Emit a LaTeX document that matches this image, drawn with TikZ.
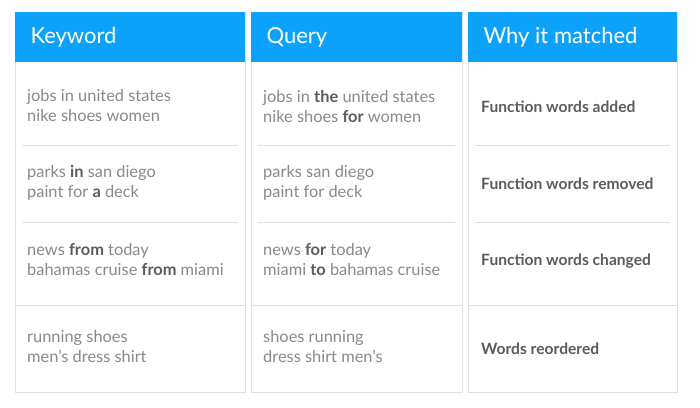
\documentclass[tikz,border=0pt]{standalone}
\usepackage{fontspec}
\setmainfont{Lato}
\usepackage{xcolor}
\definecolor{headblue}{RGB}{12,162,250}
\definecolor{cellline}{RGB}{224,224,224}
\definecolor{bodygray}{RGB}{138,138,138}
\definecolor{boldgray}{RGB}{92,92,92}
\newcommand{\fw}[1]{{\bfseries\color{boldgray}#1}}

\begin{document}
\begin{tikzpicture}[x=1pt, y=-1pt,
    head/.style={anchor=west, text=white, font=\fontsize{22}{26}\selectfont},
    cell/.style={anchor=west, align=left, inner sep=0pt, text=bodygray, font=\fontsize{16.4}{20}\selectfont},
    why/.style={anchor=west, inner sep=0pt, text=boldgray, font=\bfseries\fontsize{15.6}{18}\selectfont}]
    \useasboundingbox (0,0) rectangle (700,407);

    % columns and headers
    \foreach \xa/\xb in {15/245, 251/462, 468/677} {
      \draw[cellline, fill=white] (\xa,12) rectangle (\xb,392);
      \fill[headblue] (\xa,12) rectangle (\xb,62);
      \draw[cellline] (\xa+7,145) -- (\xb-7,145) (\xa+7,222) -- (\xb-7,222);
      \draw[cellline] (\xa,305) -- (\xb,305);
    }

    \node[head] (hkey) at (27,37) {Keyword};
    \node[head] (hquery) at (263,37) {Query};
    \node[head] (hwhy) at (480,37) {Why it matched};

    % keyword column
    \node[cell] (k1) at (27,106) {jobs in united states\\nike shoes women};
    \node[cell] (k2) at (27,183) {parks \fw{in} san diego\\paint for \fw{a} deck};
    \node[cell] (k3) at (27,260) {news \fw{from} today\\bahamas cruise \fw{from} miami};
    \node[cell] (k4) at (27,347) {running shoes\\men's dress shirt};

    % query column
    \node[cell] (q1) at (263,106) {jobs in \fw{the} united states\\nike shoes \fw{for} women};
    \node[cell] (q2) at (263,183) {parks san diego\\paint for deck};
    \node[cell] (q3) at (263,260) {news \fw{for} today\\miami \fw{to} bahamas cruise};
    \node[cell] (q4) at (263,347) {shoes running\\dress shirt men's};

    % why column
    \node[why] (w1) at (481,107) {Function words added};
    \node[why] (w2) at (481,184) {Function words removed};
    \node[why] (w3) at (481,261) {Function words changed};
    \node[why] (w4) at (481,349) {Words reordered};
\end{tikzpicture}
\end{document}
